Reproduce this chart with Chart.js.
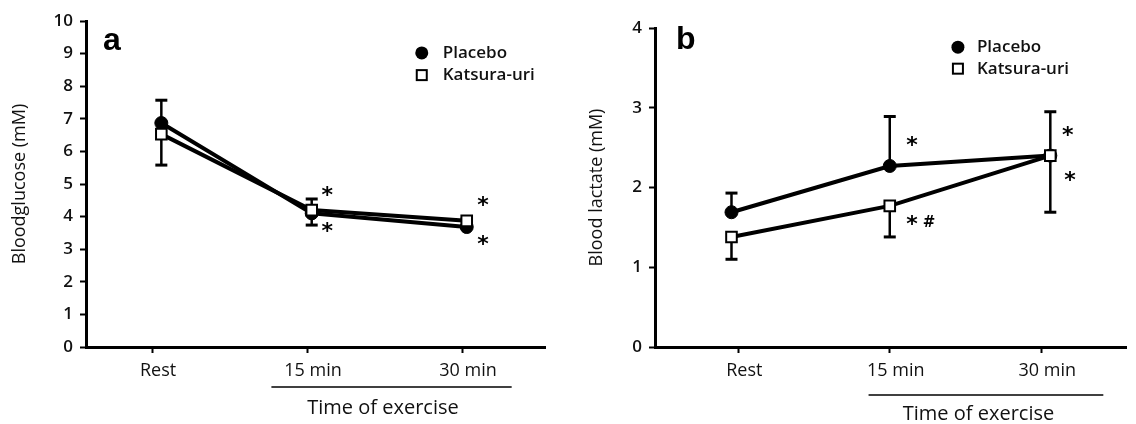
<!DOCTYPE html>
<html>
<head>
<meta charset="utf-8">
<script src="https://cdn.jsdelivr.net/npm/chart.js@4.4.1/dist/chart.umd.min.js"></script>
<style>
  body { margin: 0; background: #fff; }
  #wrap { position: relative; width: 1136px; height: 424px; }
  canvas { position: absolute; top: 0; }
  #glucose { left: 0; }
  #lactate { left: 570px; }
</style>
</head>
<body>
<div id="wrap">
  <canvas id="glucose" width="570" height="424"></canvas>
  <canvas id="lactate" width="566" height="424"></canvas>
</div>
<script>
const timeLabels = ['Rest', '15 min', '30 min'];
const seriesNames = ['Placebo', 'Katsura-uri'];

// where the markers sit along the time axis (slightly off the ticks in the figure)
const glucoseX = [0.06, 1.03, 2.03];
const lactateX = [-0.045, 1.0, 2.06];

// panel a: blood glucose (mM)
const glucosePlacebo = [6.87, 4.1, 3.68];
const glucoseKatsura = [6.53, 4.2, 3.87];
const glucosePlaceboUpper = [7.57, 4.54, 3.93];
const glucoseKatsuraLower = [5.58, 3.74, 3.64];

// panel b: blood lactate (mM)
const lactatePlacebo = [1.69, 2.27, 2.4];
const lactateKatsura = [1.38, 1.77, 2.4];
const lactatePlaceboUpper = [1.93, 2.89, 2.95];
const lactateKatsuraLower = [1.1, 1.38, 1.69];

const FONT = '"Open Sans", "DejaVu Sans", sans-serif';
const INK = '#111';

const extras = {
  id: 'extras',
  beforeDatasetsDraw(chart, args, o) {
    const { ctx, scales: { x, y } } = chart;
    ctx.save();
    ctx.strokeStyle = '#000';
    o.bars.forEach(b => {
      b.mid.forEach((v, i) => {
        const px = x.getPixelForValue(b.x[i]);
        const y0 = y.getPixelForValue(v);
        const y1 = y.getPixelForValue(b.end[i]);
        ctx.lineWidth = 2.5;
        ctx.beginPath();
        ctx.moveTo(px, y0);
        ctx.lineTo(px, y1);
        ctx.stroke();
        ctx.lineWidth = 3;
        ctx.beginPath();
        ctx.moveTo(px - 6, y1);
        ctx.lineTo(px + 6, y1);
        ctx.stroke();
      });
    });
    ctx.restore();
  },
  afterDraw(chart, args, o) {
    const { ctx, scales: { x, y }, chartArea } = chart;
    ctx.save();
    ctx.fillStyle = '#000';
    ctx.strokeStyle = '#000';

    // panel letter
    ctx.font = 'bold 32px "Liberation Sans", Arial, sans-serif';
    ctx.textAlign = 'left';
    ctx.textBaseline = 'alphabetic';
    ctx.fillText(o.letter, chartArea.left + o.letterDx, o.letterY);

    // legend
    const lx = x.getPixelForValue(o.legend.x);
    const ly1 = y.getPixelForValue(o.legend.y1);
    const ly2 = y.getPixelForValue(o.legend.y2);
    ctx.beginPath();
    ctx.arc(lx, ly1, 6.5, 0, Math.PI * 2);
    ctx.fill();
    ctx.lineWidth = 2;
    ctx.fillStyle = '#fff';
    ctx.fillRect(lx - 5, ly2 - 5, 10, 10);
    ctx.strokeRect(lx - 5, ly2 - 5, 10, 10);
    ctx.fillStyle = INK;
    ctx.font = '600 17px ' + FONT;
    ctx.textBaseline = 'middle';
    ctx.fillText(seriesNames[0], lx + o.legend.dx, ly1);
    ctx.fillText(seriesNames[1], lx + o.legend.dx, ly2);

    // significance marks
    ctx.fillStyle = '#000';
    ctx.textAlign = 'center';
    ctx.textBaseline = 'alphabetic';
    o.marks.forEach(([t, mx, my]) => {
      const px = x.getPixelForValue(mx);
      const py = y.getPixelForValue(my);
      if (t === '#') {
        ctx.font = 'bold 15px "DejaVu Sans", sans-serif';
        ctx.fillText(t, px, py + 5);
      } else {
        ctx.font = 'bold 22px "DejaVu Sans", sans-serif';
        ctx.fillText(t, px, py + 9.5);
      }
    });

    // underline and axis title
    const uy = chartArea.bottom + o.underDy;
    ctx.lineWidth = 1.5;
    ctx.beginPath();
    ctx.moveTo(x.getPixelForValue(o.under[0]), uy);
    ctx.lineTo(x.getPixelForValue(o.under[1]), uy);
    ctx.stroke();
    ctx.fillStyle = INK;
    ctx.font = '20px ' + FONT;
    ctx.textBaseline = 'middle';
    ctx.fillText('Time of exercise', x.getPixelForValue(o.titleX), chartArea.bottom + o.titleDy);
    ctx.restore();
  }
};

function makeChart(id, c) {
  const pts = arr => c.xs.map((v, i) => ({ x: v, y: arr[i] }));
  return new Chart(document.getElementById(id), {
    type: 'line',
    data: {
      datasets: [{
        label: seriesNames[0],
        data: pts(c.placebo),
        borderColor: '#000',
        borderWidth: 4,
        pointStyle: 'circle',
        pointRadius: 6.5,
        pointBackgroundColor: '#000',
        pointBorderColor: '#000',
        pointBorderWidth: 1,
        order: 2
      }, {
        label: seriesNames[1],
        data: pts(c.katsura),
        borderColor: '#000',
        borderWidth: 4,
        pointStyle: 'rect',
        pointRadius: 7.5,
        pointBackgroundColor: '#fff',
        pointBorderColor: '#000',
        pointBorderWidth: 2,
        order: 1
      }]
    },
    options: {
      responsive: false,
      animation: false,
      layout: { padding: c.padding },
      plugins: {
        legend: { display: false },
        tooltip: { enabled: false },
        extras: {
          bars: [
            { x: c.xs, mid: c.placebo, end: c.upper },
            { x: c.xs, mid: c.katsura, end: c.lower }
          ],
          letter: c.letter,
          letterDx: c.letterDx,
          letterY: c.letterY,
          legend: c.legend,
          marks: c.marks,
          under: c.under,
          underDy: c.underDy,
          titleX: c.titleX,
          titleDy: c.titleDy
        }
      },
      scales: {
        x: {
          type: 'linear',
          min: c.xMin,
          max: c.xMax,
          afterBuildTicks: s => { s.ticks = [0, 1, 2].map(v => ({ value: v })); },
          afterFit: s => { s.height = 77; },
          ticks: {
            callback: (v, i) => timeLabels[i],
            color: INK,
            font: { family: FONT, size: 18 },
            padding: 7,
            labelOffset: 6,
            maxRotation: 0,
            autoSkip: false
          },
          grid: { drawOnChartArea: false, tickLength: 6, tickWidth: 2, tickColor: '#000' },
          border: { color: '#000', width: 3 }
        },
        y: {
          min: 0,
          max: c.yMax,
          afterFit: s => { s.width = c.yWidth; },
          ticks: {
            stepSize: 1,
            color: INK,
            font: { family: FONT, size: 17, weight: '600' },
            padding: 7
          },
          title: {
            display: true,
            text: c.yTitle,
            color: INK,
            font: { family: FONT, size: 18 },
            padding: { top: c.yTitlePad }
          },
          grid: { drawOnChartArea: false, tickLength: 6, tickWidth: 2, tickColor: '#000' },
          border: { color: '#000', width: 3 }
        }
      }
    },
    plugins: [extras]
  });
}

makeChart('glucose', {
  xs: glucoseX,
  placebo: glucosePlacebo,
  katsura: glucoseKatsura,
  upper: glucosePlaceboUpper,
  lower: glucoseKatsuraLower,
  xMin: -0.426, xMax: 2.535,
  yMax: 10,
  yWidth: 86,
  yTitle: 'Bloodglucose (mM)',
  yTitlePad: 9,
  padding: { top: 21, right: 25, left: 0, bottom: 0 },
  letter: 'a', letterDx: 17, letterY: 50,
  legend: { x: 1.74, y1: 9.02, y2: 8.34, dx: 21 },
  marks: [['*', 1.13, 4.75], ['*', 1.13, 3.65], ['*', 2.135, 4.42], ['*', 2.135, 3.25]],
  under: [0.77, 2.32], underDy: 40,
  titleX: 1.49, titleDy: 61
});

makeChart('lactate', {
  xs: lactateX,
  placebo: lactatePlacebo,
  katsura: lactateKatsura,
  upper: lactatePlaceboUpper,
  lower: lactateKatsuraLower,
  xMin: -0.55, xMax: 2.563,
  yMax: 4,
  yWidth: 85,
  yTitle: 'Blood lactate (mM)',
  yTitlePad: 16,
  padding: { top: 28, right: 0, left: 0, bottom: 0 },
  letter: 'b', letterDx: 21, letterY: 49,
  legend: { x: 1.45, y1: 3.76, y2: 3.49, dx: 19 },
  marks: [['*', 1.146, 2.56], ['*', 1.146, 1.57], ['#', 1.26, 1.57], ['*', 2.175, 2.685], ['*', 2.19, 2.13]],
  under: [0.86, 2.41], underDy: 48,
  titleX: 1.586, titleDy: 67
});
</script>
</body>
</html>
